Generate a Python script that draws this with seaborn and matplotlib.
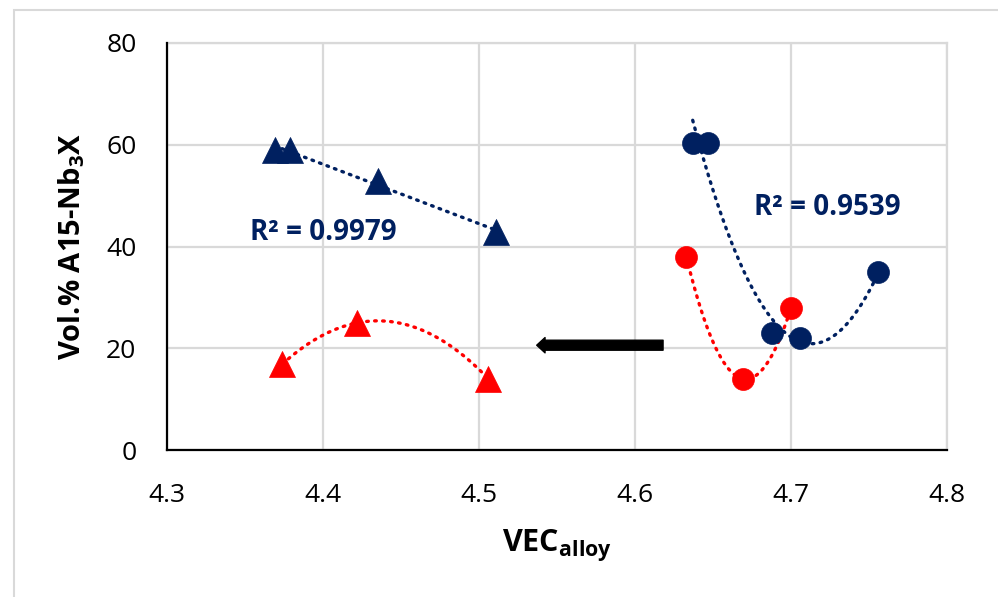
"""
Vol.% A15-Nb3X versus VEC of the alloy, with Excel-style trendlines.
"""

import matplotlib.pyplot as plt
import numpy as np
import pandas as pd
import seaborn as sns
from matplotlib.patches import Rectangle

# data
tri_navy_vec = [4.369, 4.379, 4.435, 4.511]
tri_navy_vol = [59.0, 59.0, 52.9, 42.8]

tri_red_vec = [4.374, 4.422, 4.506]
tri_red_vol = [16.9, 25.0, 14.0]

circ_navy_vec = [4.637, 4.647, 4.688, 4.706, 4.756]
circ_navy_vol = [60.3, 60.3, 23.0, 22.0, 35.0]

circ_red_vec = [4.633, 4.669, 4.700]
circ_red_vol = [37.9, 14.0, 27.9]

x_ticks = [4.3, 4.4, 4.5, 4.6, 4.7, 4.8]
y_ticks = [0, 20, 40, 60, 80]

r2_labels = ['R² = 0.9979', 'R² = 0.9539']

NAVY = '#002060'
RED = '#FF0000'
GRID = '#d9d9d9'


def trendline(x, y, order, n=200):
    """Polynomial trendline over the data range (like Excel)."""
    coef = np.polyfit(x, y, order)
    xs = np.linspace(min(x), max(x), n)
    return pd.DataFrame({'x': xs, 'y': np.polyval(coef, xs)})


sns.set_theme(style='white')
plt.rcParams['font.family'] = ['Open Sans', 'DejaVu Sans']
plt.rcParams['mathtext.fontset'] = 'custom'
plt.rcParams['mathtext.rm'] = 'Open Sans'
plt.rcParams['mathtext.bf'] = 'Open Sans:bold'

fig = plt.figure(figsize=(9.98, 5.97), dpi=100)
ax = fig.add_axes([0.1673, 0.2462, 0.7816, 0.6818])

# dotted trendlines
dots = dict(linewidth=2.4, dashes=(0.5, 1.9), dash_capstyle='round', legend=False)
for x, y, order, color in [
    (tri_navy_vec, tri_navy_vol, 1, NAVY),
    (tri_red_vec, tri_red_vol, 2, RED),
    (circ_navy_vec, circ_navy_vol, 2, NAVY),
    (circ_red_vec, circ_red_vol, 2, RED),
]:
    tl = trendline(x, y, order)
    sns.lineplot(data=tl, x='x', y='y', ax=ax, color=color, zorder=2,
                 sort=False, **dots)

# markers
sns.scatterplot(x=tri_navy_vec, y=tri_navy_vol, ax=ax, marker='^', s=350,
                color=NAVY, edgecolor=NAVY, linewidth=0.5, zorder=3)
sns.scatterplot(x=tri_red_vec, y=tri_red_vol, ax=ax, marker='^', s=350,
                color=RED, edgecolor=RED, linewidth=0.5, zorder=3)
sns.scatterplot(x=circ_navy_vec, y=circ_navy_vol, ax=ax, marker='o', s=250,
                color=NAVY, edgecolor=NAVY, linewidth=0.5, zorder=3)
sns.scatterplot(x=circ_red_vec, y=circ_red_vol, ax=ax, marker='o', s=250,
                color=RED, edgecolor=RED, linewidth=0.5, zorder=3)

# R² labels
ax.text(4.353, 42.7, r2_labels[0], color=NAVY, fontsize=20, fontweight='bold',
        va='center', ha='left', zorder=4)
ax.text(4.676, 47.6, r2_labels[1], color=NAVY, fontsize=20, fontweight='bold',
        va='center', ha='left', zorder=4)

# shift arrow
ax.annotate('', xy=(4.537, 20.6), xytext=(4.618, 20.6),
            arrowprops=dict(arrowstyle='simple,head_length=0.6,head_width=1.1,tail_width=0.72',
                            color='black', shrinkA=0, shrinkB=0, mutation_scale=10),
            zorder=4)

ax.set_xlim(4.3, 4.8)
ax.set_ylim(0, 80)
ax.set_xticks(x_ticks)
ax.set_yticks(y_ticks)
ax.set_xticklabels([f'{v:.1f}' for v in x_ticks])
ax.set_yticklabels([str(v) for v in y_ticks])
ax.tick_params(axis='both', length=0, labelsize=19, colors='black')
ax.tick_params(axis='x', pad=24)
ax.tick_params(axis='y', pad=22)

ax.grid(True, color=GRID, linewidth=1.6, zorder=0)
ax.set_axisbelow(True)
for side in ['top', 'right']:
    ax.spines[side].set_color(GRID)
    ax.spines[side].set_linewidth(1.6)
for side in ['left', 'bottom']:
    ax.spines[side].set_color('black')
    ax.spines[side].set_linewidth(1.6)
    ax.spines[side].set_zorder(5)

ax.set_xlabel(r'VEC$_{\mathbf{alloy}}$', fontsize=22, fontweight='bold',
              labelpad=14, color='black')
ax.set_ylabel(r'Vol.% A15-Nb$_{\mathbf{3}}$X', fontsize=21, fontweight='bold',
              labelpad=14, color='black')

# light chart-area border
fig.patches.append(Rectangle((14 / 998, -0.05), 1.2, 1.05 - 10 / 597,
                             transform=fig.transFigure, fill=False,
                             edgecolor=GRID, linewidth=1.5))

fig.savefig('out.png', dpi=100)
